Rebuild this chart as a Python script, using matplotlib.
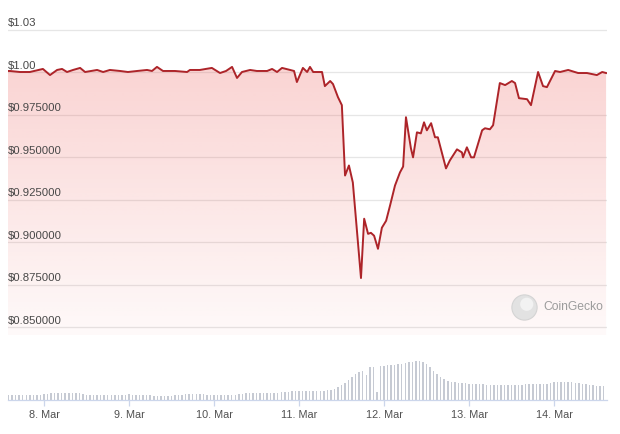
import numpy as np
import pandas as pd
import matplotlib
matplotlib.use("Agg")
import matplotlib.pyplot as plt
import matplotlib.dates as mdates
from matplotlib.transforms import blended_transform_factory

# ---------------- data ----------------
START = pd.Timestamp("2023-03-07 00:00")

# hours after 7 Mar 00:00 and USD price
price_hours = [13.8, 14.4, 17.2, 20.0, 23.7, 25.7, 27.7, 29.1, 30.5, 32.2, 34.2, 35.6,
               39.0, 40.7, 42.6, 45.5, 47.7, 50.3, 53.1, 54.5, 55.9, 57.6, 61.0, 64.4,
               65.2, 68.0, 71.4, 73.7, 75.4, 77.1, 78.5, 79.9, 82.2, 84.1, 87.0, 88.4,
               89.8, 91.2, 93.5, 94.6, 95.4, 97.1, 98.3, 99.1, 100.0, 102.5, 103.3, 104.8,
               105.6, 107.0, 108.1, 109.0, 110.1, 111.2, 113.5, 114.4, 115.5, 116.3, 117.2,
               118.3, 119.4, 120.6, 121.7, 123.1, 124.5, 125.4, 126.2, 127.6, 128.2, 129.3,
               130.4, 131.3, 132.1, 133.3, 134.4, 135.2, 137.5, 138.6, 140.6, 142.0, 142.3,
               143.4, 144.6, 145.4, 147.7, 148.5, 149.9, 150.8, 152.7, 154.2, 156.1, 157.0,
               158.1, 160.4, 161.5, 163.5, 164.9, 166.0, 168.3, 169.7, 172.0, 174.8, 177.3,
               180.1, 181.6, 182.7]
price_values = [1.0006, 1.0006, 1.0000, 1.0000, 1.0018, 0.9982, 1.0012, 1.0018, 1.0000, 1.0012,
                1.0024, 1.0000, 1.0012, 1.0000, 1.0012, 1.0006, 1.0000, 1.0006, 1.0012, 1.0006,
                1.0030, 1.0006, 1.0006, 1.0000, 1.0012, 1.0012, 1.0024, 0.9994, 1.0006, 1.0030,
                0.9965, 1.0000, 1.0012, 1.0006, 1.0006, 1.0018, 1.0000, 1.0024, 1.0012, 1.0006,
                0.9941, 1.0024, 1.0000, 1.0030, 1.0000, 1.0000, 0.9917, 0.9947, 0.9929, 0.9852,
                0.9805, 0.9391, 0.9450, 0.9350, 0.8788, 0.9137, 0.9048, 0.9054, 0.9037, 0.8960,
                0.9084, 0.9125, 0.9214, 0.9332, 0.9409, 0.9444, 0.9734, 0.9551, 0.9498, 0.9645,
                0.9639, 0.9704, 0.9657, 0.9699, 0.9616, 0.9616, 0.9433, 0.9480, 0.9545, 0.9527,
                0.9498, 0.9557, 0.9498, 0.9498, 0.9657, 0.9669, 0.9663, 0.9687, 0.9935, 0.9923,
                0.9947, 0.9935, 0.9846, 0.9840, 0.9805, 1.0000, 0.9917, 0.9911, 1.0006, 1.0000,
                1.0012, 0.9994, 0.9994, 0.9982, 1.0000, 0.9994]

# hourly volume (relative units), first bar at 7 Mar 14:00
volume_start_hour = 14
volume_values = (
    [5, 5, 5, 5, 5, 5, 5, 5, 5, 5] +                                               # 7 Mar
    [6, 6, 7, 7, 7, 7, 7, 7, 7, 7, 7, 6, 5, 5, 5, 5, 5, 5, 5, 5, 5, 5, 5, 5] +       # 8 Mar
    [6, 5, 5, 5, 5, 5, 5, 4, 4, 4, 4, 4, 4, 5, 5, 5, 6, 6, 6, 6, 6, 6, 5, 5] +       # 9 Mar
    [5, 5, 5, 5, 5, 5, 5, 6, 6, 7, 7, 7, 7, 7, 7, 7, 7, 7, 7, 8, 8, 8, 9, 9] +       # 10 Mar
    [9, 9, 9, 9, 9, 9, 9, 9, 10, 10, 11, 13, 15, 17, 20, 23, 26, 28, 29, 25, 33, 33, 8, 34] +  # 11 Mar
    [34, 35, 35, 35, 36, 36, 37, 38, 38, 39, 39, 38, 36, 33, 29, 26, 23, 21, 19, 18, 18, 17, 17, 17] +  # 12 Mar
    [16, 16, 16, 16, 16, 15, 15, 15, 15, 15, 15, 15, 15, 15, 15, 15, 16, 16, 16, 16, 16, 16, 16, 17] +  # 13 Mar
    [18, 18, 18, 18, 18, 18, 17, 17, 16, 16, 15, 15, 14, 14, 14]                    # 14 Mar
)

y_ticks = [0.85, 0.875, 0.9, 0.925, 0.95, 0.975, 1.0, 1.025]
y_labels = ["$0.850000", "$0.875000", "$0.900000", "$0.925000",
            "$0.950000", "$0.975000", "$1.00", "$1.03"]
x_tick_dates = ["2023-03-08", "2023-03-09", "2023-03-10", "2023-03-11",
                "2023-03-12", "2023-03-13", "2023-03-14"]
x_tick_labels = ["8. Mar", "9. Mar", "10. Mar", "11. Mar", "12. Mar", "13. Mar", "14. Mar"]

# ---------------- figure ----------------
plt.rcParams["font.family"] = ["Liberation Sans", "DejaVu Sans"]
W, H = 620, 434
fig = plt.figure(figsize=(W / 100, H / 100), dpi=100)
fig.patch.set_facecolor("white")

ax = fig.add_axes([8 / W, 1 - 335 / H, 599 / W, 327 / H])
vax = fig.add_axes([8 / W, 1 - 400 / H, 599 / W, 60 / H], sharex=ax)

price_times = START + pd.to_timedelta(price_hours, unit="h")
vol_times = START + pd.to_timedelta(np.arange(len(volume_values)) + volume_start_hour, unit="h")

x0 = mdates.date2num(START + pd.Timedelta(hours=13.84))
x1 = mdates.date2num(START + pd.Timedelta(hours=182.96))
ylo, yhi = 1 - 263 / 1700, 1 + 64 / 1700

# grid
for t in y_ticks:
    ax.axhline(t, color="#e6e6e6", lw=0.9, zorder=0.5)

# gradient fill under the line
grad = np.linspace(1, 0, 256)
rgba = np.zeros((256, 1, 4))
rgba[..., 0] = 236 / 255
rgba[..., 1] = 92 / 255
rgba[..., 2] = 88 / 255
rgba[..., 3] = (0.035 + 0.28 * grad)[:, None]
im = ax.imshow(rgba, extent=[x0, x1, ylo, yhi], aspect="auto", origin="upper",
               zorder=1, interpolation="bilinear")
poly = ax.fill_between(mdates.date2num(price_times), price_values, ylo,
                       facecolor="none", edgecolor="none")
im.set_clip_path(poly.get_paths()[0], transform=ax.transData)

ax.plot(price_times, price_values, color="#ad2429", lw=1.4, zorder=3,
        solid_joinstyle="round")

ax.set_xlim(x0, x1)
ax.set_ylim(ylo, yhi)
for s in ax.spines.values():
    s.set_visible(False)
ax.tick_params(left=False, labelleft=False, bottom=False, labelbottom=False)

trans = blended_transform_factory(ax.transAxes, ax.transData)
for t, lab in zip(y_ticks, y_labels):
    ax.text(0.0, t + 0.0006, lab, transform=trans, ha="left", va="bottom",
            fontsize=8.2, color="#474747", zorder=4)

# watermark
ax.scatter([0.861], [0.0856], s=330, color="#e2e2e2", edgecolor="#d4d4d4",
           linewidth=0.8, transform=ax.transAxes, zorder=2)
ax.scatter([0.866], [0.094], s=90, color="#f2f2f2", edgecolor="none",
           transform=ax.transAxes, zorder=2)
ax.text(0.893, 0.0856, "CoinGecko", transform=ax.transAxes, ha="left", va="center",
        fontsize=8.7, color="#9c9c9c", zorder=2)

# volume bars
vax.bar(vol_times, volume_values, width=0.42 / 24, color="#c6cad3", edgecolor="none")
vax.set_ylim(0, 60)
vax.set_xlim(x0, x1)
for k in ["top", "left", "right"]:
    vax.spines[k].set_visible(False)
vax.spines["bottom"].set_color("#ccd6eb")
vax.spines["bottom"].set_linewidth(0.9)
vax.tick_params(left=False, labelleft=False)
vax.set_xticks(mdates.date2num(pd.to_datetime(x_tick_dates)))
vax.set_xticklabels(x_tick_labels)
vax.tick_params(axis="x", colors="#ccd6eb", length=4, width=0.9, pad=3,
                labelsize=7.8, labelcolor="#505050")
vax.patch.set_alpha(0)

fig.savefig("out.png", dpi=100, facecolor="white")
